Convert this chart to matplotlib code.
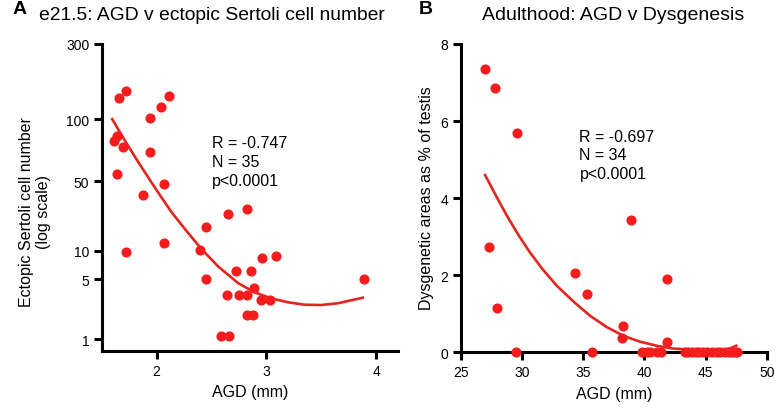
"""
AGD scatter panels: ectopic Sertoli cells (e21.5) and dysgenesis (adulthood).
"""

import numpy as np
import matplotlib
matplotlib.use('Agg')
import matplotlib.pyplot as plt

plt.rcParams['font.family'] = ['Liberation Sans', 'DejaVu Sans']

# Panel A: e21.5 AGD (mm) vs ectopic Sertoli cell number
a_agd = [1.61, 1.64, 1.66, 1.72, 1.69, 1.64, 1.72, 1.94, 2.04, 2.11, 1.94, 1.88,
         2.07, 2.07, 2.40, 2.45, 2.45, 2.65, 2.82, 2.72, 2.86, 2.96, 3.09, 2.64,
         2.75, 2.82, 2.89, 2.95, 3.03, 2.82, 2.88, 2.59, 2.66, 3.89]
a_cells = [78, 83, 136, 150, 73, 54, 9.6, 102, 120, 141, 69, 36.5,
           47, 12, 10.2, 17.4, 5, 23.3, 26, 6.1, 6.1, 8.3, 8.9, 3.3,
           3.3, 3.3, 3.9, 2.85, 2.85, 1.92, 1.92, 1.07, 1.07, 5]
a_fit_x = [1.596, 1.707, 1.829, 1.985, 2.137, 2.288, 2.409, 2.560, 2.742, 2.893,
           3.045, 3.196, 3.347, 3.499, 3.651, 3.878]
a_fit_y = [100, 79.3, 62.3, 42.9, 24.3, 15.05, 10.4, 6.82, 4.49, 3.50,
           2.98, 2.68, 2.51, 2.49, 2.61, 3.03]
a_yticks = [1, 5, 10, 50, 100, 300]
a_xticks = [2, 3, 4]
a_stats = "R = -0.747\nN = 35\np<0.0001"

# Panel B: adult AGD (mm) vs dysgenetic area (% of testis)
b_agd = [26.99, 27.80, 29.57, 27.31, 27.99, 34.34, 35.34, 38.29, 38.18, 38.89,
         41.83, 41.83,
         29.5, 35.7, 39.8, 40.2, 40.5, 41.0, 41.4, 43.3, 43.6, 43.9, 44.2,
         44.5, 44.8, 45.1, 45.5, 45.9, 46.2, 46.6, 46.9, 47.2, 47.4, 47.6]
b_dysg = [7.35, 6.85, 5.68, 2.72, 1.15, 2.06, 1.50, 0.69, 0.36, 3.43,
          1.90, 0.26,
          0, 0, 0, 0, 0, 0, 0, 0, 0, 0, 0,
          0, 0, 0, 0, 0, 0, 0, 0, 0, 0, 0]
b_fit_x = [26.99, 27.9, 28.76, 29.7, 30.66, 31.7, 32.84, 34.2, 35.56, 36.9,
           38.28, 39.6, 41.0, 42.3, 43.7, 45.0, 46.4, 47.0, 47.5]
b_fit_y = [4.60, 4.05, 3.55, 3.05, 2.59, 2.15, 1.73, 1.32, 0.95, 0.66,
           0.43, 0.28, 0.17, 0.10, 0.07, 0.05, 0.06, 0.10, 0.17]
b_yticks = [0, 2, 4, 6, 8]
b_xticks = [25, 30, 35, 40, 45, 50]
b_stats = "R = -0.697\nN = 34\np<0.0001"

DOT_RED = '#f41c1c'
LINE_RED = '#e2261f'

# the "log scale" axis in panel A is not evenly spaced per decade,
# so map log10(y) piecewise onto the drawn tick spacing
SEG_LOG = [-1, 0, np.log10(5), 1, np.log10(50), 2, np.log10(300), 3]
SEG_POS = [-85.8, 0, 60, 88.3, 158, 220, 295.3, 370]


def seg_forward(y):
    y = np.clip(np.asarray(y, dtype=float), 1e-3, None)
    return np.interp(np.log10(y), SEG_LOG, SEG_POS)


def seg_inverse(u):
    return 10 ** np.interp(np.asarray(u, dtype=float), SEG_POS, SEG_LOG)


def style_axes(ax):
    for side in ['top', 'right']:
        ax.spines[side].set_visible(False)
    for side in ['left', 'bottom']:
        ax.spines[side].set_linewidth(2.2)
    ax.tick_params(direction='out', length=6, width=2.2, labelsize=10, pad=3)
    ax.minorticks_off()


fig = plt.figure(figsize=(7.78, 4.10), dpi=100)

# ---- Panel A ----
ax_a = fig.add_axes([0.1307, 0.1407, 0.381, 0.750])
ax_a.set_yscale('function', functions=(seg_forward, seg_inverse))
ax_a.plot(a_fit_x, a_fit_y, color=LINE_RED, linewidth=1.9, zorder=2)
ax_a.plot(a_agd, a_cells, 'o', color=DOT_RED, markersize=7.3,
          markeredgewidth=0, zorder=3, clip_on=False)
ax_a.set_xlim(1.5, 4.2)
ax_a.set_ylim(seg_inverse(-12.3), 300)
ax_a.set_xticks(a_xticks)
ax_a.set_yticks(a_yticks)
ax_a.set_yticklabels([str(t) for t in a_yticks])
style_axes(ax_a)
ax_a.minorticks_off()
ax_a.set_xlabel('AGD (mm)', fontsize=11.5, va='center')
ax_a.xaxis.set_label_coords(0.5, -0.132)
ax_a.set_ylabel('Ectopic Sertoli cell number\n(log scale)', fontsize=11.5,
                va='center', linespacing=1.15)
ax_a.yaxis.set_label_coords(-0.225, 0.456)
ax_a.text(0.372, 0.618, a_stats, transform=ax_a.transAxes, fontsize=11.5,
          ha='left', va='center', linespacing=1.32)

# ---- Panel B ----
ax_b = fig.add_axes([0.5922, 0.1383, 0.3933, 0.752])
ax_b.plot(b_fit_x, b_fit_y, color=LINE_RED, linewidth=1.9, zorder=2)
ax_b.plot(b_agd, b_dysg, 'o', color=DOT_RED, markersize=7.3,
          markeredgewidth=0, zorder=3, clip_on=False)
ax_b.set_xlim(25, 50)
ax_b.set_ylim(0, 8)
ax_b.set_xticks(b_xticks)
ax_b.set_yticks(b_yticks)
style_axes(ax_b)
ax_b.set_xlabel('AGD (mm)', fontsize=11.5, va='center')
ax_b.xaxis.set_label_coords(0.5, -0.135)
ax_b.set_ylabel('Dysgenetic areas as % of testis', fontsize=11.5, va='center')
ax_b.yaxis.set_label_coords(-0.111, 0.504)
ax_b.text(0.388, 0.640, b_stats, transform=ax_b.transAxes, fontsize=11.5,
          ha='left', va='center', linespacing=1.32)

# titles and panel letters
fig.text(211.7 / 778, 1 - 16 / 410, 'e21.5: AGD v ectopic Sertoli cell number',
         fontsize=13.9, ha='center', va='center')
fig.text(613.4 / 778, 1 - 16 / 410, 'Adulthood: AGD v Dysgenesis',
         fontsize=14.0, ha='center', va='center')
fig.text(20 / 778, 1 - 9 / 410, 'A', fontsize=14, fontweight='bold',
         ha='center', va='center')
fig.text(426 / 778, 1 - 9 / 410, 'B', fontsize=14, fontweight='bold',
         ha='center', va='center')

fig.savefig('out.png', dpi=100)
plt.close(fig)
